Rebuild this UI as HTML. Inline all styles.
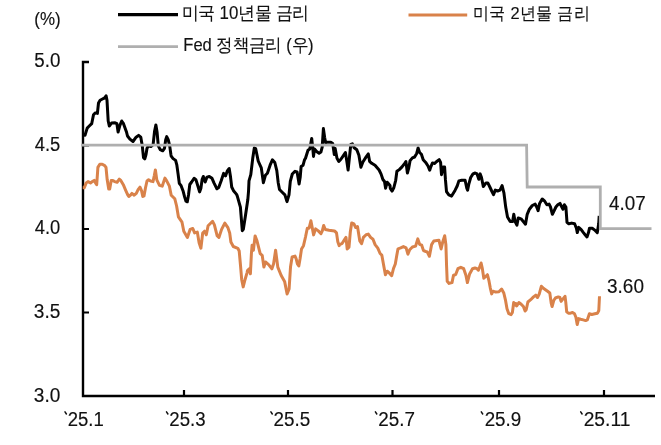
<!DOCTYPE html>
<html><head><meta charset="utf-8"><style>
html,body{margin:0;padding:0;background:#fff;width:661px;height:445px;overflow:hidden}
svg{display:block;will-change:transform}
text{font-family:"Liberation Sans",sans-serif;fill:#111;stroke:#111;stroke-width:0.15px}
</style></head><body>
<svg width="661" height="445" viewBox="0 0 661 445">
<rect width="661" height="445" fill="#fff"/>
<line x1="118" y1="14.6" x2="178" y2="14.6" stroke="#000" stroke-width="3.3"/>
<line x1="408.5" y1="14.9" x2="467.2" y2="14.9" stroke="#D9824A" stroke-width="3"/>
<line x1="118" y1="46.6" x2="178" y2="46.6" stroke="#AFAFAF" stroke-width="2.8"/>
<text transform="matrix(0.8483 0 0 0.9421 34.25 24.83)" font-size="20">(%)</text><text transform="matrix(0.9385 0 0 1.0214 34.26 67.2)" font-size="20">5.0</text><text transform="matrix(0.9185 0 0 1.0071 34.8 151.2)" font-size="20">4.5</text><text transform="matrix(0.9185 0 0 1.0071 34.8 234.2)" font-size="20">4.0</text><text transform="matrix(0.9538 0 0 1.0071 33.85 318.2)" font-size="20">3.5</text><text transform="matrix(0.9538 0 0 1.0214 33.85 402.2)" font-size="20">3.0</text><text transform="matrix(0.927 0 0 0.9714 67.67 425.9)" font-size="20">25.1</text><text transform="matrix(0.9324 0 0 0.9786 169.27 426.0)" font-size="20">25.3</text><text transform="matrix(0.9459 0 0 0.9786 273.55 426.0)" font-size="20">25.5</text><text transform="matrix(0.9432 0 0 0.9786 378.16 426.0)" font-size="20">25.7</text><text transform="matrix(0.9405 0 0 0.9786 484.66 426.0)" font-size="20">25.9</text><text transform="matrix(0.9638 0 0 0.9714 583.64 425.9)" font-size="20">25.11</text><text transform="matrix(0.9421 0 0 0.9929 609.1 210.0)" font-size="20">4.07</text><text transform="matrix(0.9486 0 0 0.9714 607.05 292.7)" font-size="20">3.60</text><text transform="matrix(0.9353 0 0 0.9941 181.93 18.72)" font-size="18">미국 10년물 금리</text><text transform="matrix(0.9213 0 0 1.0 183.28 50.9)" font-size="18">Fed 정책금리 (우)</text><text transform="matrix(0.913 0 0 0.9647 472.97 18.81)" font-size="18">미국 2년물 금리</text>
<g stroke="#111" stroke-width="1.5" stroke-linecap="round"><path d="M65.0,411.9 L66.4,414.0"/><path d="M166.5,411.9 L167.9,414.0"/><path d="M270.9,411.9 L272.3,414.0"/><path d="M375.4,411.9 L376.8,414.0"/><path d="M481.3,411.9 L482.7,414.0"/><path d="M580.7,411.9 L582.1,414.0"/></g>
<path d="M89,62 H83 V396 H655" fill="none" stroke="#000" stroke-width="2.4"/>
<path d="M83,145.5 H89 M83,229 H89 M83,312.5 H89 M184,396 V390 M288,396 V390 M392.5,396 V390 M499,396 V390 M604,396 V390" stroke="#000" stroke-width="2.2"/>
<polyline points="82.7,187.8 84.3,187.8 86.2,182.9 88,181.6 90.5,182.9 92.4,181.6 94.2,180.4 95.5,182.9 96.7,184.7 97.9,167.4 99.8,164.3 102.3,164.3 104.7,165.6 106,167.4 107.2,179.8 108.7,189.1 109.7,189.1 111.2,180.4 112.8,180.4 114.6,181.6 117.1,182.3 119.3,179.2 120.8,180.4 123.3,184.7 125.7,190.3 127.6,194.6 128.8,196.5 130.4,195.2 131.9,193.4 134.2,195.2 136.3,193.4 138.1,189.7 140,187.2 141.6,190.9 142.8,196.5 144,195.9 145.5,187.8 147,181 148.6,179.8 150.5,181 153,181.6 154.2,176.1 155.4,169.9 156.8,179.9 159.5,185.3 162.2,186.2 164.9,178.1 166.7,180.8 169.4,186.2 171.2,195.2 174.8,198.8 176.6,206 178.4,216.8 182,222.2 183.8,231.2 187.4,237.4 190.1,229.4 192.8,228.5 194.6,232.9 197.3,232.1 199.1,242.8 200.9,248.2 202.7,233 204.5,231.2 206.3,234.8 208.1,225.8 212.6,221.3 214.4,224.9 217.1,235.7 218.9,237.5 221.6,229.4 224.8,223.1 227.9,227.6 229.7,233 230.9,242 233.3,246.5 237.8,248.3 239.2,251 240.5,265.4 241.7,279.7 243.2,286.9 245,279.7 247.1,272.6 247.5,270.5 249.2,268.8 250.4,273.8 251.4,253.6 252.1,245.2 253.4,250.3 255.1,235.9 256.8,240.2 260.2,253.6 262.2,255.3 263.9,267.1 265.5,262 268.6,264.6 271.9,268.8 273.6,263.7 275.6,250.3 277.8,267.1 281.2,275.5 284.6,281.4 287.1,294 289.1,289 290.5,267.1 292.1,257 295,256.1 296.1,258.5 297.4,263.9 298.8,265.9 300.1,258.5 301.5,249.1 303.5,245.7 305.5,237 307.3,228.2 309.1,228.2 310.9,220.8 312.2,227.5 313.6,234.9 315.6,228.9 318.3,230.9 321,233.6 322.3,230.9 323.7,225.5 325.3,229.5 329.1,230.2 334.5,230.9 336.5,232.9 337.8,241.7 339.2,245.7 339.5,244.6 341.9,243.7 344.2,240.1 346,237.4 347.2,249 349,247.2 350.3,232 351.7,223 353.9,223.9 355.7,227.5 357.5,226.6 359.8,241 361.6,243.7 363.4,237.4 366.1,234.7 368.3,234.1 370.6,237.4 373,239.2 375.1,244.6 377.8,248.1 380.1,253.5 381.8,255.1 383.6,264.9 385.4,274.8 387.2,271.2 389.3,273 391.7,275.7 393.5,268.5 395.3,264 396.5,256.9 398,248.8 400.7,247.9 403.4,246.6 406.1,247.9 407.9,254.2 409.7,249.7 412.4,247 415.6,246.1 417.8,238.9 419.6,244.3 421.7,245.2 423.5,250.6 425.8,251.5 427.2,251.9 429.4,256.3 431.6,244.6 433.8,241 438.9,240.2 441.1,249 442.8,241.7 444.7,235.8 445.9,244.6 446.6,266.5 447.2,281.2 449.1,283.4 452,282.6 453.5,275.3 455.7,274.6 457.9,268.7 460.8,267.3 463.7,268.7 465.9,275.3 467.4,282.6 469.6,273.9 472.5,268.7 475,268 476.6,268.4 478.4,270.2 481.1,263 482.3,268.4 483.8,278.3 485.6,276.5 487.4,274.7 489,280.9 490.3,288.1 491.7,293.9 493,291.2 495.7,292.1 498.9,291.7 501.6,289 503.8,293 505.6,300.7 507,308.8 508.8,313.7 511,314.6 512.4,312.4 513.7,302.5 515.5,305.2 515.8,303.4 516.7,305.9 518.9,302.5 521.2,304.2 523.4,306.5 525.1,311 526.2,309.8 527.9,302 530.7,299.7 533.5,296.9 535.8,295.2 537.5,297.5 539.2,294.1 541.4,286.2 543.7,288.5 547.6,291.3 549.8,293 551.2,303.1 552.1,306.5 553.8,300.3 555.4,298 558.3,296.9 559.9,297.5 561.1,301.4 562.8,299.2 565,296.3 565.8,302.4 566.7,311.8 568.4,313.2 570.5,313.2 572.5,312.5 574.5,313.8 575.9,317.2 577.2,324.6 578.6,318.6 580.6,319.2 583.3,319.9 585.6,320.6 587.3,319.9 589.4,313.8 591.8,314.5 594.8,313.8 597.5,313.2 598.8,310.5 599.5,296.3" fill="none" stroke="#D9824A" stroke-width="3" stroke-linejoin="round"/>
<polyline points="84,133.5 85,135.3 87.2,128.1 89,126.3 91.7,123.7 93.5,114.7 95.3,112.9 97.4,113.4 98.5,103 100.1,100.3 103.4,98.5 104.8,97.9 106.1,95.8 107,100.3 108.2,121 109.3,126 111.5,123.1 115.1,122.8 116.9,123.7 118.1,132.1 119.9,125.4 121.7,121 123.5,123.7 126.4,131.7 127.5,136 129.9,139.1 133,141.5 136.1,137.2 138.6,135.4 140.8,137.2 142.3,145.9 143.5,157.6 144.8,158.8 146,154.5 147,148.3 148.5,145.9 150.9,146.5 153.1,144.6 154.6,131 155.9,124.9 157.1,132.3 158.3,145.9 160.2,149.6 162.7,150.8 164.5,148.3 165.7,139.7 166.7,136.6 168.2,139.7 169.7,145.9 170.9,154.5 171.2,156.1 173.1,158.6 175.6,160.4 176.8,164.8 178,173.4 179.3,183.3 181.1,185.7 183,190.7 184.6,196.9 186,201.2 187.3,201.8 188.5,195 189.8,184.5 191.6,182 194.1,178.3 195.9,179.6 197.8,185.7 199.6,191.9 200.9,188.2 202.1,179.6 203.3,176.5 205.2,182 207,177.1 209.3,176.5 212,178.3 214.2,183.3 216.3,187.6 216.9,188.8 218.7,187.6 221.2,180.8 223.6,173.4 225.5,175.9 227.3,170.9 229.2,168.5 230.4,175.9 231.7,187 233.5,190.7 236.6,194.4 237.3,196.1 240.4,207.2 242.3,230.7 243.3,229.4 245.4,215.9 247.8,199.8 248.5,191.7 249,180.8 250.8,174.6 252.7,158.6 254.3,148.1 255.7,148.7 258.2,161 261.3,167.9 263.4,182.7 265.4,175.3 267.4,173.3 270.1,165.2 272.4,159.8 274.8,162.5 276.8,170.6 278.2,182.7 279.5,189.5 282.2,192.2 284.9,194.9 287,201.6 289,194.9 290.3,181.4 292.3,174 295,171.3 297.1,172 299.1,184.1 300.2,177.3 301.1,166.6 303.1,165.2 304.5,159.9 305.5,158.3 308,150.2 309.8,149 311.7,138.5 312.9,149.6 313.5,156.4 314.5,149 316.6,151.5 319.1,153.3 320.9,152.1 322.2,147.2 323.4,128.6 324.6,137.3 325.6,142.8 327.3,142.2 330.8,142.2 332.7,143.5 334.3,154.6 335.1,148.4 337,158.3 338.8,161.4 340.7,159.5 342.7,156.6 345.4,152.5 346.7,160.6 348.1,170 349.4,157.9 350.8,144.4 352.4,143.8 354.2,147.8 356.8,149.8 358.9,155.2 360.9,167.3 362.9,162 366.3,156.6 368.3,153.9 369.6,161.3 371.7,163.3 375,165.3 379.1,170 381.1,174.1 382.9,179.5 384.5,181.5 385.6,188.2 387.2,182.2 390,185.5 390.3,188.4 392.1,191.1 393.9,187.5 395.7,180.3 396.9,171.3 399.3,169.6 402,166.9 404.7,163.3 405.9,161.5 407.4,173.1 408.8,167.8 410.1,160.6 412.4,157.9 414.6,157 416.7,153.4 418.1,148 419.6,152.5 421.4,154.3 423.2,159.7 425.7,162.4 428,166 429.7,170.2 430.8,166.9 432.5,162.9 434.7,163.5 436.4,161.8 439.2,159.6 440.6,162.4 441.5,174.7 443.2,166.9 444.6,166.9 445.4,179.2 446.5,191.6 448.8,194.9 451.6,196.1 455,190.4 457.2,186 458.9,180.9 461.7,180.3 465.1,180.3 466.8,188.2 467.6,190.1 468.9,183.8 470.7,177.5 473,173.9 475.2,173 477,173.9 478.8,179.3 480.2,173.9 481.5,177.5 483.3,186.5 486,182.9 487.8,182.9 489.6,186.5 491.7,191 493.5,194.6 495.3,190.1 497.6,191 500,190.1 502.1,185.6 503.9,192.8 505.7,207.1 507.5,217 510.2,221.5 512.6,221.5 513.8,214.3 515.1,221.5 516.9,225.1 518.3,217.9 521,218.8 523.3,221.5 525.5,224.2 527.2,214.3 529.4,209.2 532.3,205.5 535.2,204.1 536.7,207 538.1,210.7 539.6,203.4 542.2,199 544.7,201.2 546.9,204.8 549.1,204.1 550.5,207 552.4,214.3 554.2,210.7 555.9,207 557.8,204.8 560,203.4 561.8,207 563,209.2 564.4,204.8 565.9,207 567,222.3 568.8,223.8 571.7,223.1 574.6,223.8 576.4,228.2 577.3,232.6 578.7,227.4 581.2,229.6 583.4,232.6 585.1,234.7 587,236.9 588.5,232.6 589.5,228.2 592.2,228.2 595.1,230.4 597.3,232.6 598.7,223.8 599.2,215.8" fill="none" stroke="#000" stroke-width="3" stroke-linejoin="round"/>
<polyline points="81,145.1 526.6,145.1 527.2,187 600.3,187 600.3,228.6 651.5,228.6" fill="none" stroke="#AFAFAF" stroke-width="2.8"/>
</svg>
</body></html>
